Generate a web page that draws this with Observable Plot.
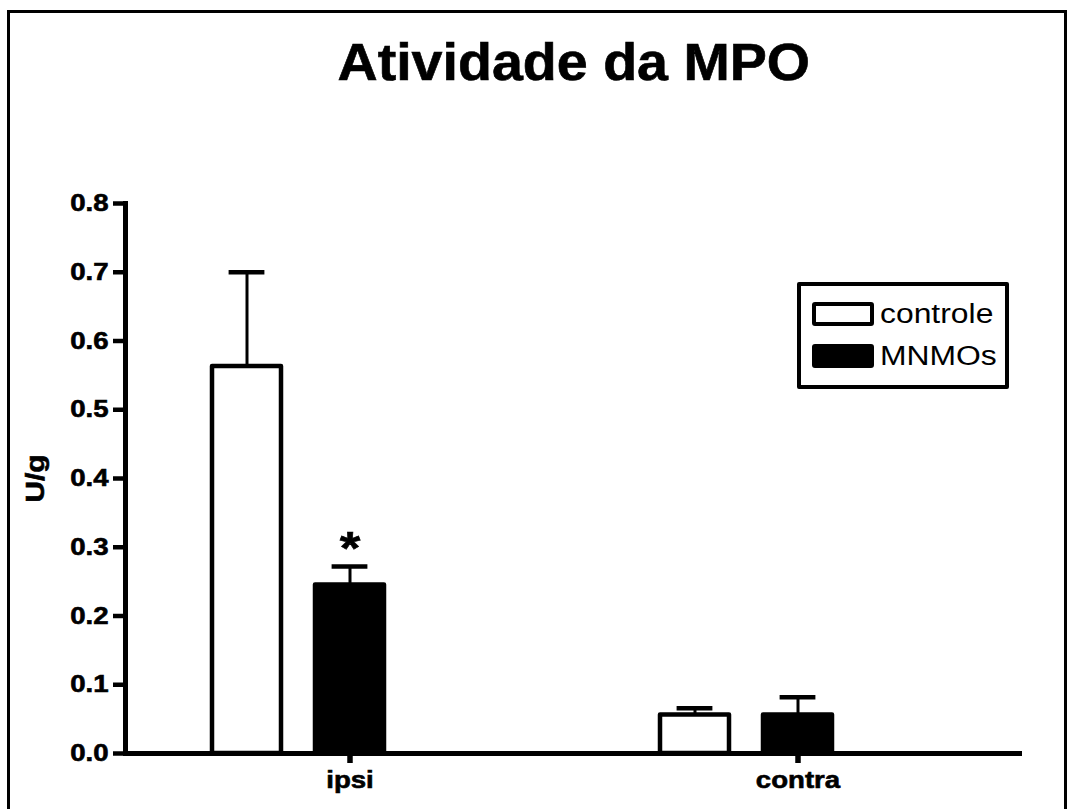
<!DOCTYPE html>
<html>
<head>
<meta charset="utf-8">
<script src="https://cdn.jsdelivr.net/npm/d3@7"></script>
<script src="https://cdn.jsdelivr.net/npm/@observablehq/plot@0.6"></script>
<style>
  body { margin: 0; background: #fff; font-family: "Liberation Sans", Arial, sans-serif; }
  #wrap { position: relative; width: 1067px; height: 809px; overflow: hidden; background: #fff; }
  #chart { position: absolute; left: 0; top: 0; }
  #frame { position: absolute; left: 7px; top: 10px; width: 1054px; height: 900px; border: 3px solid #000; pointer-events: none; z-index: 2; }
  #title { position: absolute; left: 125px; width: 897px; top: 38px; text-align: center; font-weight: bold; font-size: 51px; line-height: 50px; z-index: 3; -webkit-text-stroke: 0.6px #000; }
  #title span { display: inline-block; transform: scaleX(1.09); transform-origin: center; }
  #legend { position: absolute; left: 797px; top: 282px; width: 212px; height: 107px; border: 4px solid #000; box-sizing: border-box; border-radius: 2px; background: #fff; z-index: 3; }
  .sw { position: absolute; left: 11px; width: 62px; height: 24px; border: 4px solid #000; box-sizing: border-box; border-radius: 3px; }
  .lt { position: absolute; left: 79px; font-size: 27px; line-height: 27px; white-space: nowrap; transform: scaleX(1.18); transform-origin: left center; }
</style>
</head>
<body>
<div id="wrap">
  <div id="chart"></div>
  <div id="frame"></div>
  <div id="title"><span></span></div>
  <div id="legend"></div>
</div>
<script>
// ---- data ----
const titleText = "Atividade da MPO";
const yLabel = "U/g";
const groups = ["ipsi", "contra"];
const series = ["controle", "MNMOs"];
const seriesFill = ["white", "black"];
const controleMean = [0.563, 0.056];
const controleSEM = [0.137, 0.010];
const mnmosMean = [0.245, 0.056];
const mnmosSEM = [0.027, 0.026];
const controleSig = ["", ""];
const mnmosSig = ["*", ""];
const yTicks = [0.0, 0.1, 0.2, 0.3, 0.4, 0.5, 0.6, 0.7, 0.8];

// ---- build table ----
const means = [controleMean, mnmosMean];
const sems = [controleSEM, mnmosSEM];
const sigs = [controleSig, mnmosSig];
const rows = [];
series.forEach((s, si) => groups.forEach((g, gi) => rows.push({
  group: g, series: s, mean: means[si][gi], upper: means[si][gi] + sems[si][gi], sig: sigs[si][gi]
})));

const seriesDx = {controle: -103, MNMOs: 0};

const marks = [];
series.forEach((s, si) => {
  const d = rows.filter(r => r.series === s);
  const dx = seriesDx[s];
  marks.push(
    Plot.ruleX(d, {x: "group", y1: "mean", y2: "upper", stroke: "black", strokeWidth: 3, dx}),
    Plot.tickY(d, {x: "group", y: "upper", stroke: "black", strokeWidth: 4.5, insetLeft: 16.6, insetRight: 16.6, dx}),
    Plot.barY(d, {x: "group", y: "mean", fill: seriesFill[si], stroke: "black", strokeWidth: 4.5, strokeLinejoin: "round", dx}),
    Plot.text(d.filter(r => r.sig), {x: "group", y: "upper", text: "sig", fontSize: 46, fontWeight: "bold", dy: -17, dx, fill: "black"})
  );
});

const chart = Plot.plot({
  width: 1067,
  height: 809,
  marginLeft: 125,
  marginRight: 45,
  marginTop: 203,
  marginBottom: 56,
  style: {background: "transparent", color: "black", fontFamily: "'Liberation Sans', Arial, sans-serif"},
  x: {type: "band", domain: groups, paddingInner: 0.8458, paddingOuter: 0.4229, align: 0.5},
  y: {domain: [0, 0.8]},
  marks: [
    ...marks,
    Plot.ruleY([0], {stroke: "black", strokeWidth: 5}),
    Plot.frame({anchor: "left", stroke: "black", strokeWidth: 5, strokeLinecap: "square"}),
    Plot.axisY({ticks: yTicks, tickFormat: d3.format(".1f"), tickSize: 12, tickPadding: 5, strokeWidth: 4.5, fontSize: 24, fontWeight: "bold", label: null}),
    Plot.axisX({tickSize: 10, tickPadding: 7, strokeWidth: 5.5, fontSize: 24, fontWeight: "bold", label: null}),
    Plot.text([yLabel], {text: d => d, frameAnchor: "left", textAnchor: "middle", dx: -90, rotate: -90, fontSize: 26, fontWeight: "bold", fill: "black"})
  ]
});

// widen glyphs horizontally and thicken them (the reference uses a wide, heavy rendering of the font)
chart.querySelectorAll("text").forEach(t => {
  const tr = t.getAttribute("transform") || "";
  const x = parseFloat(t.getAttribute("x")) || 0;
  t.setAttribute("transform", `${tr} translate(${x},0) scale(1.15,1) translate(${-x},0)`);
  t.style.stroke = "black";
  t.style.strokeWidth = "0.6px";
});

document.getElementById("chart").appendChild(chart);
document.querySelector("#title span").textContent = titleText;

// legend
const legend = document.getElementById("legend");
const swTop = [16, 58];
const txtTop = [16, 58];
series.forEach((s, i) => {
  const sw = document.createElement("div");
  sw.className = "sw";
  sw.style.top = swTop[i] + "px";
  sw.style.background = seriesFill[i];
  legend.appendChild(sw);
  const lt = document.createElement("div");
  lt.className = "lt";
  lt.style.top = (txtTop[i] - 1) + "px";
  lt.textContent = s;
  legend.appendChild(lt);
});
</script>
</body>
</html>
